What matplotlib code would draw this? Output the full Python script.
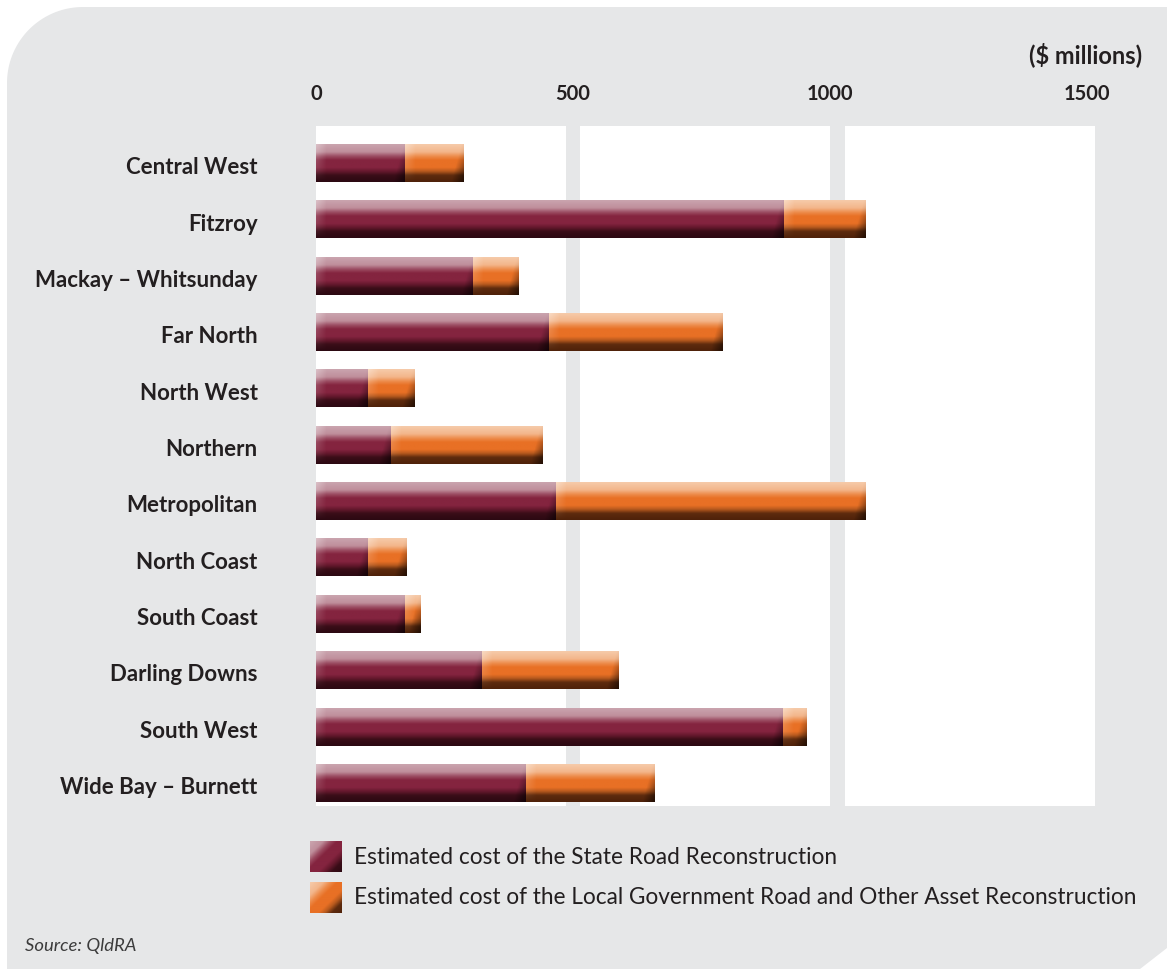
import numpy as np
import matplotlib
matplotlib.use("Agg")
import matplotlib.pyplot as plt
from matplotlib.patches import Polygon
from matplotlib.colors import to_rgb

# ---- data ($ millions) ----
regions = ["Central West", "Fitzroy", "Mackay \u2013 Whitsunday", "Far North",
           "North West", "Northern", "Metropolitan", "North Coast",
           "South Coast", "Darling Downs", "South West", "Wide Bay \u2013 Burnett"]
state_road = [174, 910, 306, 453, 102, 145, 467, 102, 174, 322, 908, 408]
local_gov = [113, 158, 89, 337, 90, 294, 602, 74, 31, 265, 45, 250]
x_ticks = [0, 500, 1000, 1500]
x_tick_labels = ["0", "500", "1000", "1500"]
unit_label = "($ millions)"
legend_labels = ["Estimated cost of the State Road Reconstruction",
                 "Estimated cost of the Local Government Road and Other Asset Reconstruction"]
source_text = "Source: QldRA"

TEXT = "#231f20"
PANEL = "#e6e7e8"
FONT = "Lato"

W, H = 1167, 969
fig = plt.figure(figsize=(W / 100, H / 100), dpi=100)
fig.patch.set_facecolor("white")

# ---- background panel drawn in pixel space ----
bg = fig.add_axes([0, 0, 1, 1], zorder=0)
bg.set_xlim(0, W)
bg.set_ylim(H, 0)
bg.axis("off")
r = 76
x0p, y0p = 7, 7
ang = np.linspace(np.pi, 1.5 * np.pi, 40)
arc = np.column_stack([x0p + r + r * np.cos(ang), y0p + r + r * np.sin(ang)])
pts = np.vstack([[x0p, H + 5], arc, [W + 5, y0p], [W + 5, 948], [W, 948], [1140, H], [1140, H + 5]])
bg.add_patch(Polygon(pts, closed=True, facecolor=PANEL, edgecolor="none"))

# ---- colour ramps for glossy bars ----
def ramp(stops, n):
    t = np.linspace(0, 1, n)
    ts = [s[0] for s in stops]
    cols = np.array([to_rgb(s[1]) for s in stops])
    return np.column_stack([np.interp(t, ts, cols[:, k]) for k in range(3)])

maroon_stops = [(0.0, "#caa4ae"), (0.2, "#bf8e9b"), (0.32, "#9a4a60"), (0.42, "#84243f"),
                (0.62, "#84243f"), (0.72, "#67192e"), (0.83, "#3a0d18"), (1.0, "#2c0912")]
orange_stops = [(0.0, "#f6caa9"), (0.2, "#f3b68b"), (0.32, "#ed8b4a"), (0.42, "#e87025"),
                (0.62, "#e87025"), (0.72, "#b85a1e"), (0.83, "#5e2b0e"), (1.0, "#4f220a")]

def bar_image(stops, wpx, hpx=40):
    wpx = max(int(round(wpx)), 2)
    col = ramp(stops, hpx)                      # vertical profile
    img = np.repeat(col[:, None, :], wpx, axis=1)
    xs = np.arange(wpx)[None, :]
    ys = np.linspace(0, 1, hpx)[:, None]
    # light left edge
    left = np.clip(1 - xs / 10.0, 0, 1) * 0.3 * (1 - ys)
    img = img + (1 - img) * left[..., None]
    # bevelled right end: darker diagonal band
    d = (wpx - 1 - xs) + (1 - ys) * 10
    right = np.clip(1 - d / 12.0, 0, 1) * 0.55 * np.clip(ys * 1.6, 0.2, 1)
    img = img * (1 - right[..., None])
    return np.clip(img, 0, 1)

# ---- main axes ----
ax = fig.add_axes([316 / W, 1 - 806 / H, (1095 - 316) / W, (806 - 126) / H], zorder=1)
ax.set_facecolor("white")
for s in ax.spines.values():
    s.set_visible(False)

xmax = 1515.6
ypos = np.arange(len(regions))
ylim = (11.41, -0.656)

ax.axvspan(486, 514, color=PANEL, lw=0, zorder=0.5)
ax.axvspan(1000, 1029, color=PANEL, lw=0, zorder=0.5)

bh = 0.674
b1 = ax.barh(ypos, state_road, height=bh, color="#84243f", zorder=2)
b2 = ax.barh(ypos, local_gov, left=state_road, height=bh, color="#e87025", zorder=2)

px_per_unit = (1095 - 316) / xmax
for bars, stops in ((b1, maroon_stops), (b2, orange_stops)):
    for p in bars.patches:
        x, y = p.get_x(), p.get_y()
        w, h = p.get_width(), p.get_height()
        img = bar_image(stops, w * px_per_unit)
        ax.imshow(img, extent=(x, x + w, y + h, y), origin="upper", aspect="auto",
                  interpolation="bilinear", zorder=3)

ax.set_xlim(0, xmax)
ax.set_ylim(*ylim)

ax.xaxis.tick_top()
ax.set_xticks(x_ticks)
ax.set_xticklabels(x_tick_labels, fontsize=14.5, fontweight="bold", color=TEXT, family=FONT)
ax.tick_params(axis="x", length=0, pad=16)
ax.set_yticks(ypos + 0.05)
ax.set_yticklabels(regions, fontsize=16, fontweight="bold", color=TEXT, family=FONT)
ax.tick_params(axis="y", length=0, pad=42)

# ---- annotations in pixel space ----
fg = fig.add_axes([0, 0, 1, 1], zorder=2)
fg.set_xlim(0, W)
fg.set_ylim(H, 0)
fg.axis("off")
fg.patch.set_alpha(0)

fg.text(1142, 55, unit_label, ha="right", va="center", fontsize=17, fontweight="bold",
        color=TEXT, family=FONT)

def legend_square(stops, y_top):
    n = 32
    col = ramp(stops, 2 * n)
    ii, jj = np.meshgrid(np.arange(n), np.arange(n), indexing="ij")
    idx = np.clip(ii + jj, 0, 2 * n - 1)
    img = col[idx]
    fg.imshow(img, extent=(310, 342, y_top + 31, y_top), origin="upper", aspect="auto",
              interpolation="bilinear", zorder=3)

legend_square(maroon_stops, 841)
legend_square(orange_stops, 882)
fg.text(354, 857, legend_labels[0], ha="left", va="center", fontsize=16.3, color=TEXT, family=FONT)
fg.text(354, 898, legend_labels[1], ha="left", va="center", fontsize=16.3, color=TEXT, family=FONT)
fg.text(25, 946, source_text, ha="left", va="center", fontsize=13.3, style="italic",
        color="#3c3c3c", family=FONT)
fg.set_xlim(0, W)
fg.set_ylim(H, 0)

fig.savefig("out.png", dpi=100, facecolor=fig.get_facecolor())
